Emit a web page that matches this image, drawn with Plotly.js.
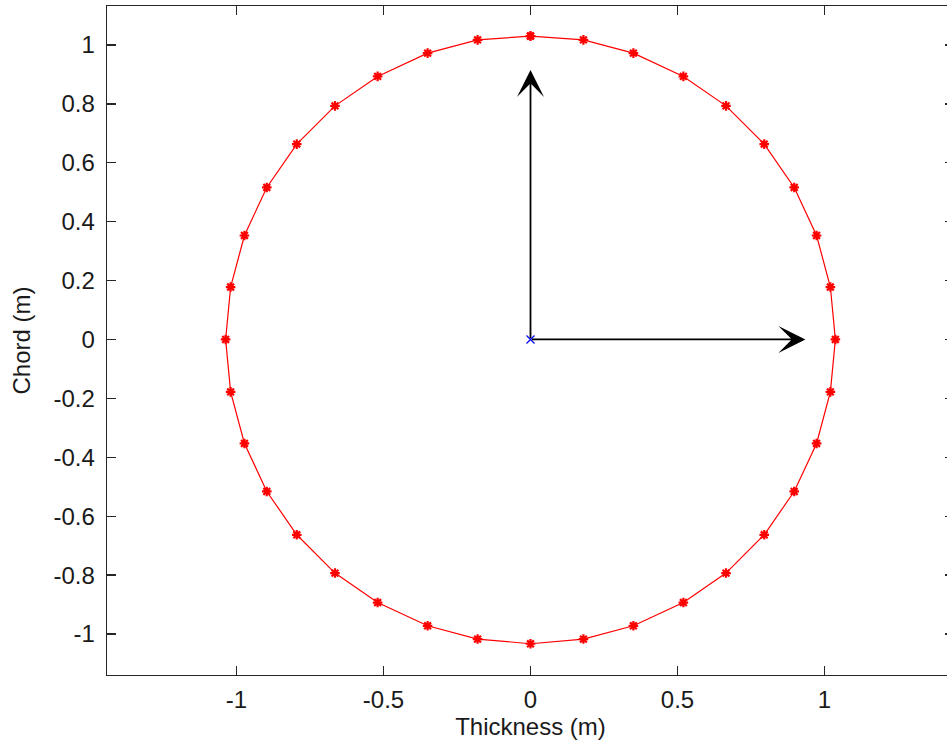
<!DOCTYPE html>
<html>
<head>
<meta charset="utf-8">
<script src="https://cdn.plot.ly/plotly-3.0.1.min.js"></script>
<style>
html, body { margin: 0; padding: 0; overflow: hidden; background: #fff; }
#chart { width: 960px; height: 747px; }
</style>
</head>
<body>
<div id="chart"></div>
<script>
// Blade section outline
var thicknessX = [0, 0.18, 0.35, 0.52, 0.665, 0.795, 0.897, 0.973, 1.02, 1.037,
                  1.02, 0.973, 0.897, 0.795, 0.665, 0.52, 0.35, 0.18, 0,
                  -0.18, -0.35, -0.52, -0.665, -0.795, -0.897, -0.973, -1.02, -1.037,
                  -1.02, -0.973, -0.897, -0.795, -0.665, -0.52, -0.35, -0.18, 0];
var chordY = [1.03, 1.017, 0.972, 0.893, 0.793, 0.663, 0.516, 0.353, 0.178, 0,
              -0.178, -0.353, -0.516, -0.663, -0.793, -0.893, -0.972, -1.017, -1.033,
              -1.017, -0.972, -0.893, -0.793, -0.663, -0.516, -0.353, -0.178, 0,
              0.178, 0.353, 0.516, 0.663, 0.793, 0.893, 0.972, 1.017, 1.03];

// Centre point and direction vectors (quiver)
var centreX = [0];
var centreY = [0];
var vecU = [0.935, 0];
var vecV = [0, 0.915];

var xTicks = [-1, -0.5, 0, 0.5, 1];
var xTickText = ['-1', '-0.5', '0', '0.5', '1'];
var yTicks = [-1, -0.8, -0.6, -0.4, -0.2, 0, 0.2, 0.4, 0.6, 0.8, 1];
var yTickText = ['-1', '-0.8', '-0.6', '-0.4', '-0.2', '0', '0.2', '0.4', '0.6', '0.8', '1'];

var FONT = 'Liberation Sans, Arial, sans-serif';
var FS = 24;

var traces = [
  {
    x: thicknessX, y: chordY, type: 'scatter', mode: 'lines+markers',
    line: { color: '#ff0000', width: 1.2 },
    marker: { symbol: 'asterisk-open', size: 8, color: '#ff0000', line: { color: '#ff0000', width: 2.2 } },
    hoverinfo: 'x+y', showlegend: false
  },
  {
    x: centreX, y: centreY, type: 'scatter', mode: 'markers',
    marker: { symbol: 'x-thin-open', size: 8, color: '#0000ff', line: { color: '#0000ff', width: 1.2 } },
    showlegend: false
  }
];

var annotations = [];
for (var i = 0; i < vecU.length; i++) {
  annotations.push({
    x: centreX[0] + vecU[i], y: centreY[0] + vecV[i],
    ax: centreX[0], ay: centreY[0],
    xref: 'x', yref: 'y', axref: 'x', ayref: 'y',
    text: '', showarrow: true,
    arrowhead: 3, arrowsize: 2.5, arrowwidth: 1.8, arrowcolor: '#000000'
  });
}

var axisCommon = {
  showline: true, linecolor: '#262626', linewidth: 1.4, mirror: 'ticks',
  ticks: 'inside', ticklen: 9, tickwidth: 1.4, tickcolor: '#262626',
  showgrid: false, zeroline: false,
  tickfont: { family: FONT, size: FS, color: '#1a1a1a' }
};

var layout = {
  width: 960, height: 747,
  margin: { l: 107, r: 6, t: 6, b: 72 },
  paper_bgcolor: '#ffffff', plot_bgcolor: '#ffffff',
  font: { family: FONT, size: FS, color: '#1a1a1a' },
  xaxis: Object.assign({}, axisCommon, {
    range: [-1.4405, 1.4405],
    tickmode: 'array', tickvals: xTicks, ticktext: xTickText,
    ticklabelstandoff: 3,
    title: { text: 'Thickness (m)', font: { family: FONT, size: FS, color: '#1a1a1a' }, standoff: 5 }
  }),
  yaxis: Object.assign({}, axisCommon, {
    range: [-1.139, 1.132],
    tickmode: 'array', tickvals: yTicks, ticktext: yTickText,
    ticklabelstandoff: 6,
    title: { text: 'Chord (m)', font: { family: FONT, size: FS, color: '#1a1a1a' }, standoff: 16 }
  }),
  annotations: annotations
};

Plotly.newPlot('chart', traces, layout, { displayModeBar: false, staticPlot: true });
</script>
</body>
</html>
